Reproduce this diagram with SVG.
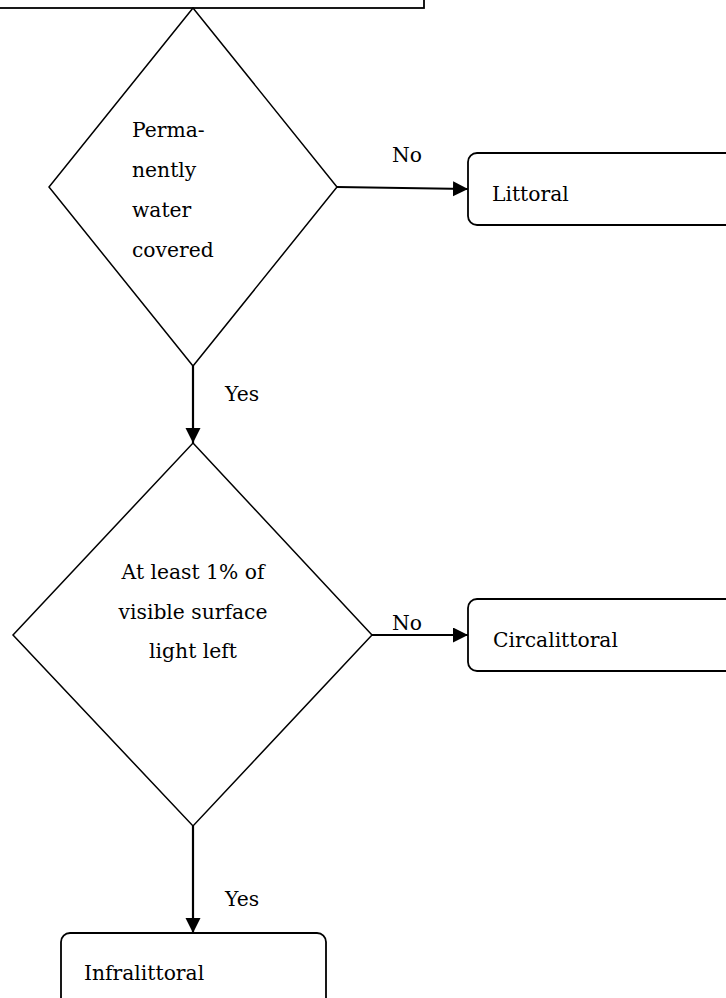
<svg xmlns="http://www.w3.org/2000/svg" width="726" height="998" viewBox="0 0 726 998">
<style>
.box{fill:#fff;stroke:#000;stroke-width:1.8}
.dia{fill:#fff;stroke:#000;stroke-width:1.5}
.con{fill:none;stroke:#000;stroke-width:2.2}
text{font-family:"DejaVu Serif","Liberation Serif",serif;font-size:20.3px;fill:#000}
.mid{text-anchor:middle}
</style>
<defs>
<marker id="arr" markerUnits="userSpaceOnUse" markerWidth="16" markerHeight="16" refX="15" refY="7.5" orient="auto">
<path d="M0,0 L15,7.5 L0,15 Z" fill="#000"/>
</marker>
</defs>
<g id="top">
<rect class="box" x="-10" y="-30" width="434" height="38"/>
</g>
<g id="d1">
<polygon class="dia" points="193,8 337,187 193,366 49,187"/>
<text x="132" y="137">Perma-</text>
<text x="132" y="177">nently</text>
<text x="132" y="217">water</text>
<text x="132" y="257">covered</text>
</g>
<g id="littoral">
<rect class="box" x="468" y="153" width="280" height="72" rx="9"/>
<text x="492" y="201">Littoral</text>
</g>
<g id="d2">
<polygon class="dia" points="193,443 372,635 193,826 13,635"/>
<text class="mid" x="193" y="579">At least 1% of</text>
<text class="mid" x="193" y="619">visible surface</text>
<text class="mid" x="193" y="658">light left</text>
</g>
<g id="circalittoral">
<rect class="box" x="468" y="599" width="280" height="72" rx="9"/>
<text x="493" y="647">Circalittoral</text>
</g>
<g id="infralittoral">
<rect class="box" x="61" y="933" width="265" height="90" rx="9"/>
<text x="84" y="980">Infralittoral</text>
</g>
<g id="connectors">
<line class="con" x1="337" y1="187" x2="468" y2="189" marker-end="url(#arr)"/>
<text class="mid" x="407" y="162">No</text>
<line class="con" x1="193" y1="366" x2="193" y2="443" marker-end="url(#arr)"/>
<text x="225" y="401">Yes</text>
<line class="con" x1="372" y1="635" x2="468" y2="635" marker-end="url(#arr)"/>
<text class="mid" x="407" y="630">No</text>
<line class="con" x1="193" y1="826" x2="193" y2="933" marker-end="url(#arr)"/>
<text x="225" y="906">Yes</text>
</g>
</svg>
